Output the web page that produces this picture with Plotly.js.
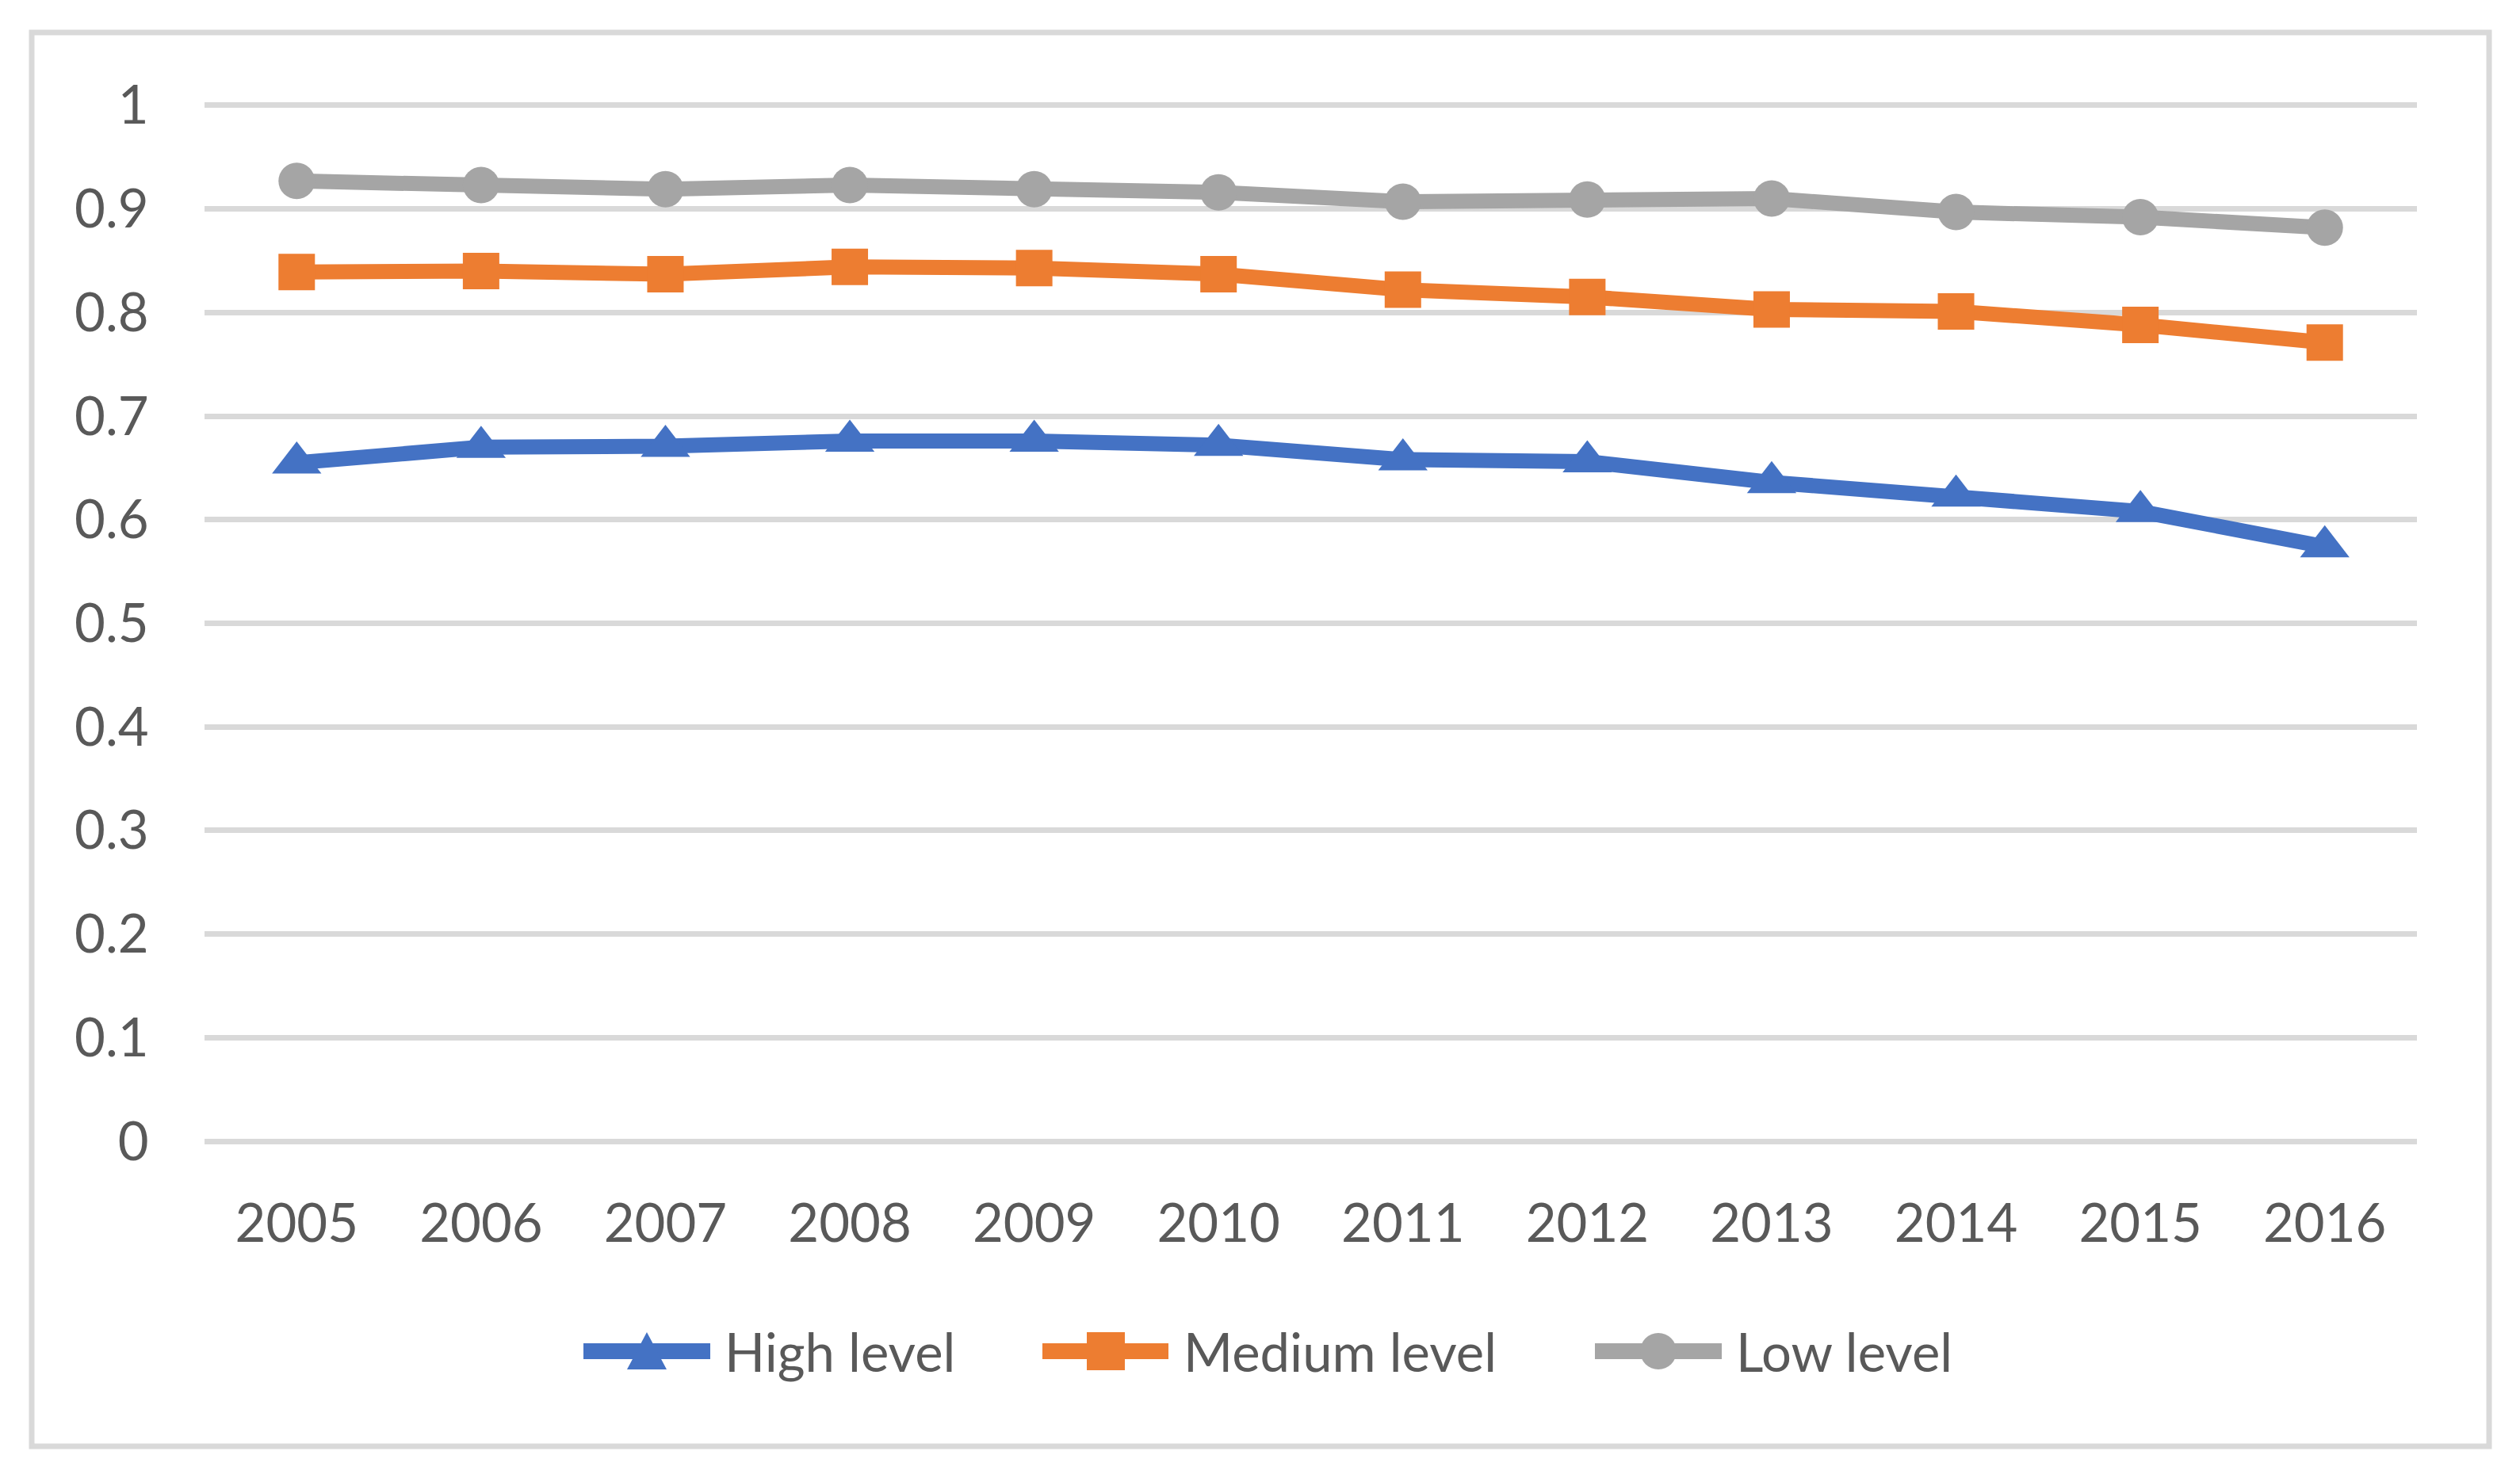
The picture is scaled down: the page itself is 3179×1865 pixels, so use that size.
<!DOCTYPE html>
<html>
<head>
<meta charset="utf-8">
<script src="https://cdn.plot.ly/plotly-3.0.1.min.js"></script>
<style>
  html, body { margin: 0; padding: 0; background: #ffffff; }
  #chart { width: 3179px; height: 1865px; }
</style>
</head>
<body>
<div id="chart"></div>
<script>
// ---- Data ----
const years = ['2005', '2006', '2007', '2008', '2009', '2010', '2011', '2012', '2013', '2014', '2015', '2016'];
const highLevel   = [0.655, 0.670, 0.671, 0.676, 0.676, 0.672, 0.658, 0.656, 0.636, 0.623, 0.608, 0.574];
const mediumLevel = [0.839, 0.840, 0.837, 0.844, 0.843, 0.837, 0.822, 0.815, 0.803, 0.801, 0.788, 0.771];
const lowLevel    = [0.927, 0.923, 0.919, 0.923, 0.919, 0.916, 0.907, 0.909, 0.910, 0.897, 0.892, 0.882];
const seriesNames = ['High level', 'Medium level', 'Low level'];
const yTickValues = [0, 0.1, 0.2, 0.3, 0.4, 0.5, 0.6, 0.7, 0.8, 0.9, 1];
const yTickLabels = ['0', '0.1', '0.2', '0.3', '0.4', '0.5', '0.6', '0.7', '0.8', '0.9', '1'];

// ---- Styling ----
const W = 3179, H = 1865;
const M = { l: 258, r: 130, t: 129, b: 421 };
const plotW = W - M.l - M.r, plotH = H - M.t - M.b;
const px2x = p => (p - M.l) / plotW;
const px2y = p => (H - M.b - p) / plotH;

const colors = ['#4472C4', '#ED7D31', '#A5A5A5'];
const symbols = ['triangle-up', 'square', 'circle'];
const markerSizes = [54, 46, 46];
const textColor = '#595959';
const fontFamily = 'Lato, "Open Sans", sans-serif';
const lineW = 19;

const seriesValues = [highLevel, mediumLevel, lowLevel];
const traces = seriesValues.map((vals, i) => ({
  type: 'scatter',
  mode: 'lines+markers',
  name: seriesNames[i],
  x: years,
  y: vals,
  line: { color: colors[i], width: lineW },
  marker: { symbol: symbols[i], size: markerSizes[i], color: colors[i], line: { width: 0 } },
  cliponaxis: false,
  hoverinfo: 'x+y+name'
}));

// ---- Custom legend (layout decorations) ----
const legendY = 1705;
const legendItems = [
  { lineX0: 726, lineX1: 906, mx: 816, textX: 912 },
  { lineX0: 1305, lineX1: 1484, mx: 1395, textX: 1491 },
  { lineX0: 2002, lineX1: 2182, mx: 2092, textX: 2188 }
];
const shapes = [];
const annotations = [];
// outer chart border
shapes.push({
  type: 'rect', xref: 'paper', yref: 'paper', layer: 'below',
  x0: px2x(40), x1: px2x(3140), y0: px2y(1825), y1: px2y(41),
  line: { color: '#D9D9D9', width: 7 }, fillcolor: 'rgba(0,0,0,0)'
});
legendItems.forEach((it, i) => {
  shapes.push({
    type: 'line', xref: 'paper', yref: 'paper',
    x0: px2x(it.lineX0 + 10), x1: px2x(it.lineX1 - 10), y0: px2y(legendY), y1: px2y(legendY),
    line: { color: colors[i], width: 20 }
  });
  const half = 24;
  if (symbols[i] === 'square') {
    shapes.push({
      type: 'rect', xref: 'paper', yref: 'paper',
      x0: px2x(it.mx - half), x1: px2x(it.mx + half), y0: px2y(legendY + half), y1: px2y(legendY - half),
      line: { width: 0 }, fillcolor: colors[i]
    });
  } else if (symbols[i] === 'circle') {
    shapes.push({
      type: 'circle', xref: 'paper', yref: 'paper',
      x0: px2x(it.mx - 23), x1: px2x(it.mx + 23), y0: px2y(legendY + 23), y1: px2y(legendY - 23),
      line: { width: 0 }, fillcolor: colors[i]
    });
  } else {
    const p = (x, y) => px2x(x).toFixed(6) + ',' + px2y(y).toFixed(6);
    shapes.push({
      type: 'path', xref: 'paper', yref: 'paper',
      path: 'M' + p(it.mx - 25, legendY + 23) + ' L' + p(it.mx + 25, legendY + 23) + ' L' + p(it.mx, legendY - 24) + ' Z',
      line: { width: 0 }, fillcolor: colors[i]
    });
  }
  annotations.push({
    xref: 'paper', yref: 'paper', x: px2x(it.textX), y: px2y(legendY),
    xanchor: 'left', yanchor: 'middle', showarrow: false,
    text: seriesNames[i],
    font: { family: fontFamily, size: 67, color: textColor }
  });
});

const layout = {
  width: W, height: H, autosize: false,
  margin: { l: M.l, r: M.r, t: M.t, b: M.b, pad: 0 },
  paper_bgcolor: '#ffffff', plot_bgcolor: '#ffffff',
  showlegend: false,
  font: { family: fontFamily, color: textColor },
  xaxis: {
    type: 'category', range: [-0.5, 11.5], fixedrange: true,
    showgrid: false, zeroline: false, showline: false,
    ticks: 'outside', ticklen: 42, tickcolor: 'rgba(0,0,0,0)',
    tickfont: { family: fontFamily, size: 67, color: textColor }
  },
  yaxis: {
    range: [-0.003, 1.003], fixedrange: true,
    tickmode: 'array', tickvals: yTickValues, ticktext: yTickLabels,
    showgrid: true, gridcolor: '#D9D9D9', gridwidth: 7,
    zeroline: false, showline: false,
    ticks: 'outside', ticklen: 56, tickcolor: 'rgba(0,0,0,0)',
    tickfont: { family: fontFamily, size: 67, color: textColor }
  },
  shapes: shapes,
  annotations: annotations
};

Plotly.newPlot('chart', traces, layout, { displayModeBar: false, staticPlot: true });
</script>
</body>
</html>
